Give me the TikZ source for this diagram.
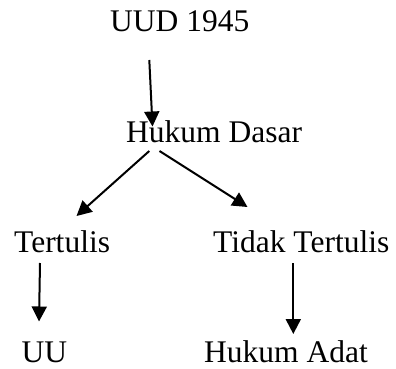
\documentclass[tikz,border=0pt]{standalone}
\usepackage{fontspec}
\setmainfont{Liberation Serif}
\usetikzlibrary{arrows.meta}
\begin{document}
\begin{tikzpicture}[x=1pt,y=-1pt,
  lbl/.style={anchor=base west,inner sep=0pt,font=\fontsize{31.5}{36}\selectfont},
  arr/.style={line width=2pt,-{Triangle[length=15pt,width=15pt]}}]
\useasboundingbox (0,0) rectangle (396,369);
% labels
\node[lbl] (uud) at (110,32) {UUD 1945};
\node[lbl] (hd)  at (126,142.5) {Hukum Dasar};
\node[lbl] (tt)  at (14,252) {Tertulis};
\node[lbl] (ttt) at (213,252) {Tidak Tertulis};
\node[lbl] (uu)  at (21.5,362) {UU};
\node[lbl] (ha)  at (204,362) {Hukum Adat};
% free ends of the arrows
\coordinate (a1s) at (149.3,60);    \coordinate (a1e) at (152.5,126.5);
\coordinate (a2s) at (149.3,151);   \coordinate (a2e) at (76.5,216);
\coordinate (a3s) at (159.5,151);   \coordinate (a3e) at (247.5,207);
\coordinate (a4s) at (40,263);      \coordinate (a4e) at (39,321.5);
\coordinate (a5s) at (293.3,263);   \coordinate (a5e) at (293.3,334);
% arrows
\draw[arr] (a1s) -- (a1e);
\draw[arr] (a2s) -- (a2e);
\draw[arr] (a3s) -- (a3e);
\draw[arr] (a4s) -- (a4e);
\draw[arr] (a5s) -- (a5e);
\end{tikzpicture}
\end{document}
